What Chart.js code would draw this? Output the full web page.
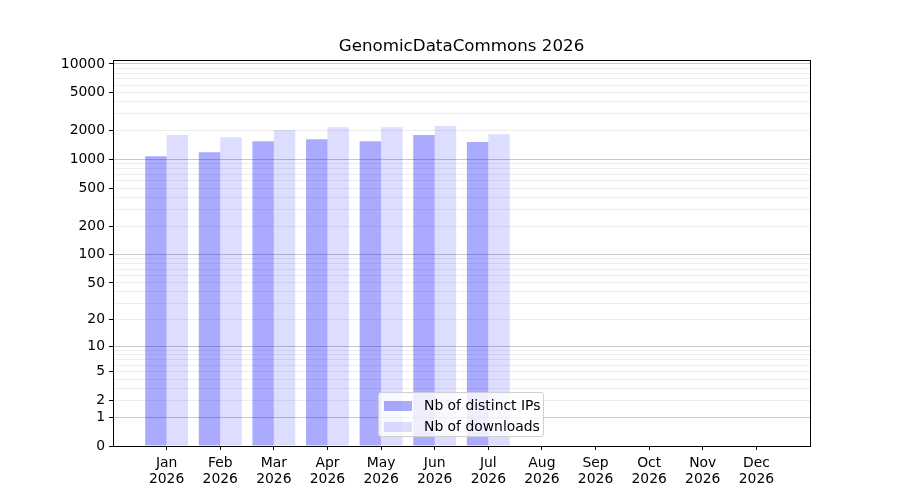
<!DOCTYPE html>
<html>
<head>
<meta charset="utf-8">
<script src="https://cdn.jsdelivr.net/npm/chart.js@4/dist/chart.umd.min.js"></script>
<style>
body { margin: 0; background: #fff; }
#wrap { position: relative; width: 900px; height: 500px; }
#legend {
    position: absolute; left: 378px; top: 392px; width: 164px; height: 43px;
    background: rgba(255,255,255,0.8); border: 1px solid #d0d0d0; border-radius: 3px;
    font-family: "DejaVu Sans", sans-serif; font-size: 13.9px; color: #000;
}
#legend div { position: absolute; left: 5px; height: 16px; line-height: 16px; white-space: nowrap; }
#legend span { display: inline-block; width: 28px; height: 10px; margin-right: 12px; vertical-align: -1px; }
</style>
</head>
<body>
<div id="wrap">
<canvas id="myChart" width="900" height="500"></canvas>
<div id="legend"></div>
</div>
<script>
// data
var months = ['Jan', 'Feb', 'Mar', 'Apr', 'May', 'Jun', 'Jul', 'Aug', 'Sep', 'Oct', 'Nov', 'Dec'];
var year = '2026';
var ips = [1080, 1190, 1550, 1630, 1550, 1800, 1520];
var downloads = [1800, 1710, 2030, 2180, 2180, 2240, 1840];
var yTicks = [0, 1, 2, 3, 4, 5, 6, 7, 8, 9, 10, 20, 30, 40, 50, 60, 70, 80, 90,
    100, 200, 300, 400, 500, 600, 700, 800, 900,
    1000, 2000, 3000, 4000, 5000, 6000, 7000, 8000, 9000, 10000];
var yLabeled = [0, 1, 2, 5, 10, 20, 50, 100, 200, 500, 1000, 2000, 5000, 10000];
var yMajor = [1, 10, 100, 1000, 10000];

var colorIps = 'rgba(0,0,255,0.333)';
var colorDl = 'rgba(0,0,255,0.135)';

// log10(1+x) scale, like the reference axis
function f(v) { return Math.log10(1 + v); }
class Log1pScale extends Chart.Scale {
    determineDataLimits() {
        this.min = this.options.min;
        this.max = this.options.max;
    }
    buildTicks() {
        return yTicks.map(function (v) { return { value: v }; });
    }
    getLabelForValue(v) { return String(v); }
    configure() {
        super.configure();
        this._start = f(this.min);
        this._range = f(this.max) - this._start;
    }
    getPixelForValue(v) {
        return this.getPixelForDecimal((f(v) - this._start) / this._range);
    }
    getValueForPixel(p) {
        return Math.pow(10, this._start + this.getDecimalForPixel(p) * this._range) - 1;
    }
}
Log1pScale.id = 'log1p';
Log1pScale.defaults = {};
Chart.register(Log1pScale);

var frame = {
    id: 'frame',
    afterDraw: function (chart) {
        var a = chart.chartArea, ctx = chart.ctx;
        ctx.save();
        ctx.strokeStyle = '#000';
        ctx.lineWidth = 1;
        ctx.strokeRect(Math.round(a.left) + 0.5, Math.round(a.top) + 0.5, Math.round(a.right - a.left), Math.round(a.bottom - a.top));
        ctx.restore();
    }
};

Chart.defaults.font.family = '"DejaVu Sans", sans-serif';
Chart.defaults.color = '#000';

var ctx = document.getElementById('myChart').getContext('2d');
var chart = new Chart(ctx, {
    type: 'bar',
    data: {
        datasets: [{
            label: 'Nb of distinct IPs',
            data: ips.map(function (v, i) { return { x: i, y: v }; }),
            backgroundColor: colorIps,
            borderWidth: 0
        }, {
            label: 'Nb of downloads',
            data: downloads.map(function (v, i) { return { x: i, y: v }; }),
            backgroundColor: colorDl,
            borderWidth: 0
        }]
    },
    options: {
        responsive: false,
        animation: false,
        devicePixelRatio: 1,
        categoryPercentage: 0.8,
        barPercentage: 1.0,
        layout: { padding: { left: 0, right: 90, top: 0, bottom: 0 } },
        plugins: {
            legend: { display: false },
            tooltip: { enabled: false },
            title: {
                display: true,
                fullSize: false,
                text: 'GenomicDataCommons ' + year,
                font: { size: 16.7, weight: 'normal' },
                padding: { top: 37, bottom: 3 }
            }
        },
        scales: {
            x: {
                type: 'linear',
                min: -1,
                max: 12,
                offset: false,
                afterBuildTicks: function (scale) {
                    scale.ticks = months.map(function (m, i) { return { value: i }; });
                },
                afterFit: function (scale) { scale.height = 54; },
                ticks: {
                    autoSkip: false,
                    maxRotation: 0,
                    padding: 6,
                    font: { size: 13.9, lineHeight: 1.1 },
                    callback: function (v) { return [months[v], year]; }
                },
                grid: { offset: false, drawOnChartArea: false, drawTicks: true, tickLength: 4, color: '#000' },
                border: { color: '#000' }
            },
            y: {
                type: 'log1p',
                min: 0,
                max: 11000,
                afterFit: function (scale) { scale.width = 113; },
                ticks: {
                    autoSkip: false,
                    padding: 4,
                    font: { size: 13.9 },
                    callback: function (v) { return yLabeled.indexOf(v) >= 0 ? String(v) : ''; }
                },
                grid: {
                    tickLength: 4,
                    lineWidth: 1,
                    color: function (c) {
                        var v = c.tick && c.tick.value;
                        if (v === 0) return 'rgba(0,0,0,0)';
                        return yMajor.indexOf(v) >= 0 ? 'rgba(0,0,0,0.22)' : 'rgba(0,0,0,0.07)';
                    },
                    tickColor: function (c) {
                        var v = c.tick && c.tick.value;
                        return yLabeled.indexOf(v) >= 0 ? '#000' : 'rgba(0,0,0,0)';
                    }
                },
                border: { color: '#000' }
            }
        }
    },
    plugins: [frame]
});

// legend inside the plot, as in the reference
var legend = document.getElementById('legend');
chart.data.datasets.forEach(function (ds, i) {
    var row = document.createElement('div');
    row.style.top = (4 + i * 21) + 'px';
    var sw = document.createElement('span');
    sw.style.background = ds.backgroundColor;
    row.appendChild(sw);
    row.appendChild(document.createTextNode(ds.label));
    legend.appendChild(row);
});
</script>
</body>
</html>
